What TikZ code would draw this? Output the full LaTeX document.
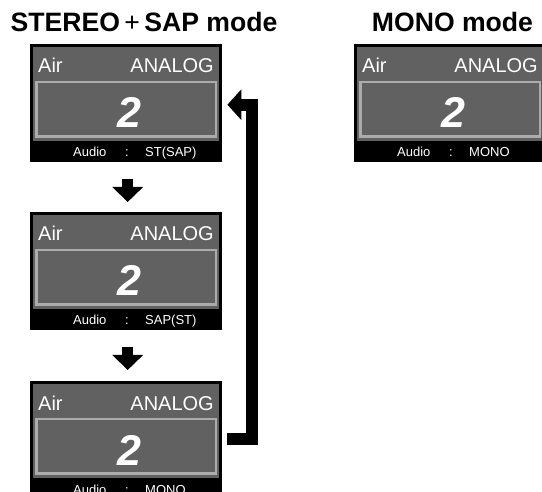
\documentclass[tikz,border=0pt]{standalone}
\usepackage{fontspec}
\setmainfont{Liberation Sans}
\usetikzlibrary{arrows.meta}
\definecolor{panelgrey}{RGB}{97,97,97}
\definecolor{lightborder}{RGB}{172,172,172}
\tikzset{
  panel/.style={fill=black, draw=none, minimum width=192pt, minimum height=118pt, inner sep=0pt, anchor=north west},
  hdr/.style={text=white, inner sep=0pt, font=\fontsize{20}{24}\selectfont},
  bignum/.style={text=white, inner sep=0pt, anchor=base, font=\fontsize{43}{43}\selectfont\bfseries\itshape},
  audio/.style={text=white, inner sep=0pt, font=\fontsize{13}{15}\selectfont},
  title/.style={inner sep=0pt, anchor=base, font=\fontsize{26.6}{30}\selectfont\bfseries},
  downarr/.style={line width=11pt, -{Triangle[width=30pt,length=15pt]}},
  looparr/.style={line width=12pt, line join=miter, -{Triangle[width=30pt,length=14pt]}}
}
\newcommand\mypanel[4]{%
  \node[panel] (#1) at (#2,#3) {};
  \fill[panelgrey] (#2+3,#3+3) rectangle (#2+189,#3+97);
  \draw[lightborder, line width=2.5pt, fill=panelgrey] (#2+6.25,#3+38.25) rectangle (#2+185.75,#3+92.75);
  \node[hdr, anchor=base west] (#1-air) at (#2+8,#3+29) {Air};
  \node[hdr, anchor=base east] (#1-analog) at (#2+184,#3+29) {ANALOG};
  \node[bignum] (#1-num) at (#2+99,#3+84) {2};
  \node[audio, anchor=base west] (#1-audio) at (#2+43,#3+113) {Audio};
  \node[audio, anchor=base] (#1-colon) at (#2+97,#3+113) {:};
  \node[audio, anchor=base west] (#1-value) at (#2+115,#3+113) {#4};
}
\begin{document}
\begin{tikzpicture}[x=1pt, y=-1pt]
\useasboundingbox (0,0) rectangle (542,492);
\clip (0,0) rectangle (542,492);
\fill[white] (0,0) rectangle (542,492);
\node[title] (t1) at (144,32) {STEREO{\mdseries\,+\,}SAP mode};
\node[title] (t2) at (452.5,32) {MONO mode};
\mypanel{p1}{30}{44}{ST(SAP)}
\mypanel{p2}{30}{212}{SAP(ST)}
\mypanel{p3}{30}{381}{MONO}
\mypanel{pm}{354}{44}{MONO}
\draw[downarr] ([xshift=1.5pt,yshift=-17pt]p1.south) -- ([xshift=1.5pt,yshift=10pt]p2.north);
\draw[downarr] ([xshift=1.5pt,yshift=-17pt]p2.south) -- ([xshift=1.5pt,yshift=11pt]p3.north);
\draw[looparr] ([xshift=5pt,yshift=1.5pt]p3.east) -| ([xshift=30pt,yshift=-1.5pt]p1.east) -- ([xshift=5pt,yshift=-1.5pt]p1.east);
\end{tikzpicture}
\end{document}
